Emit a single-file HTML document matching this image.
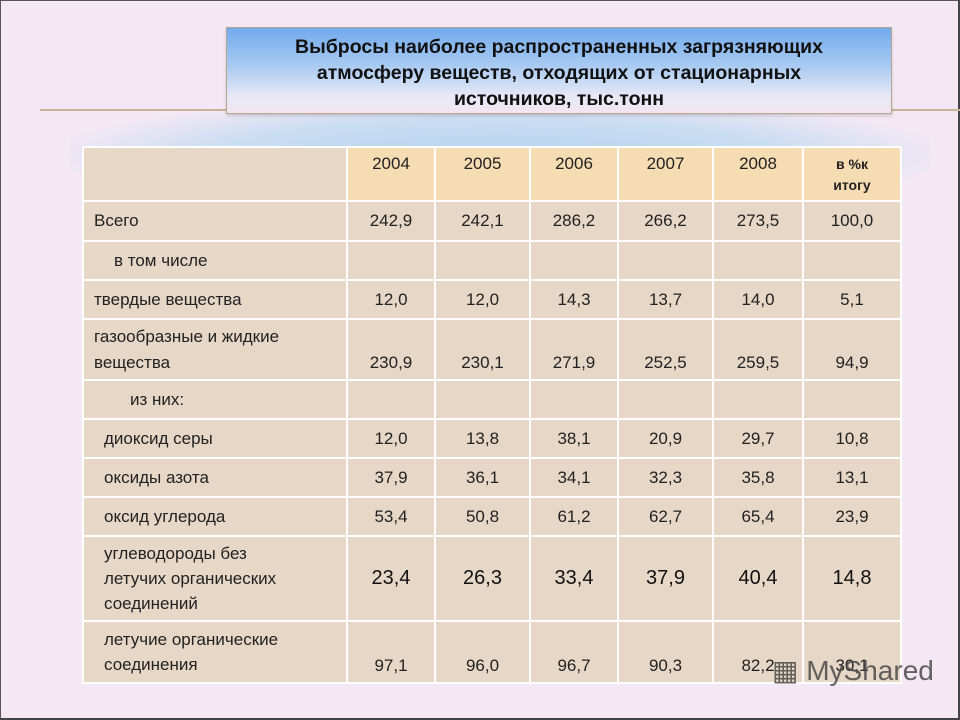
<!DOCTYPE html>
<html><head><meta charset="utf-8">
<style>
html,body{margin:0;padding:0}
body{width:960px;height:720px;position:relative;overflow:hidden;background:#f4e8f4;font-family:"Liberation Sans",sans-serif;}
#frame{position:absolute;left:0;top:0;width:957px;height:717px;border:1px solid #555;border-right:2px solid #444;border-bottom:2px solid #444;}
#glow{position:absolute;left:70px;top:100px;width:860px;height:110px;background:radial-gradient(ellipse at center,#b4d3ef 0%,#c9ddf2 45%,rgba(244,232,244,0) 75%);}
#line{position:absolute;left:40px;top:109px;width:920px;height:2px;background:#cbb39a;}
#title{position:absolute;left:226px;top:27px;width:666px;height:87px;border:1px solid #b9a58e;background:linear-gradient(#72aaec 0%,#a9cbf2 45%,#e6e8f6 80%,#f4e6f2 100%);text-align:center;font-weight:bold;font-size:19.5px;line-height:26px;color:#111;box-sizing:border-box;padding-top:6px;box-shadow:0 2px 3px rgba(0,0,0,0.15);}
table{position:absolute;left:82px;top:146px;border-collapse:collapse;font-size:17px;color:#222;}
td{border:2px solid #fff;background:#e6d7c7;padding:0;vertical-align:middle;text-align:center;}
td.l{text-align:left;padding-left:10px;}
tr.h td{background:#f6dcb2;vertical-align:top;padding-top:6px;}
tr.h td.l{background:#e6d7c7;}
td.b{vertical-align:bottom;padding-bottom:6px;}
.big{font-size:20px;color:#111}
#wm{position:absolute;left:772px;top:654px;font-size:28px;color:#4a4a4a;opacity:.85;}
</style></head><body>
<div id="frame"></div>
<div id="glow"></div>
<div id="line"></div>
<div id="title">Выбросы наиболее распространенных загрязняющих<br>атмосферу веществ, отходящих от стационарных<br>источников, тыс.тонн</div>
<table>
<colgroup><col style="width:264px"><col style="width:88px"><col style="width:95px"><col style="width:88px"><col style="width:95px"><col style="width:90px"><col style="width:98px"></colgroup>
<tr class="h" style="height:54px"><td class="l"></td><td>2004</td><td>2005</td><td>2006</td><td>2007</td><td>2008</td><td style="font-size:14px;font-weight:bold;line-height:21px">в %к<br>итогу</td></tr>
<tr style="height:40px"><td class="l">Всего</td><td>242,9</td><td>242,1</td><td>286,2</td><td>266,2</td><td>273,5</td><td>100,0</td></tr>
<tr style="height:39px"><td class="l" style="padding-left:30px">в том числе</td><td></td><td></td><td></td><td></td><td></td><td></td></tr>
<tr style="height:39px"><td class="l">твердые вещества</td><td>12,0</td><td>12,0</td><td>14,3</td><td>13,7</td><td>14,0</td><td>5,1</td></tr>
<tr style="height:61px"><td class="l" style="line-height:26px">газообразные и жидкие<br>вещества</td><td class="b">230,9</td><td class="b">230,1</td><td class="b">271,9</td><td class="b">252,5</td><td class="b">259,5</td><td class="b">94,9</td></tr>
<tr style="height:39px"><td class="l" style="padding-left:46px">из них:</td><td></td><td></td><td></td><td></td><td></td><td></td></tr>
<tr style="height:39px"><td class="l" style="padding-left:20px">диоксид серы</td><td>12,0</td><td>13,8</td><td>38,1</td><td>20,9</td><td>29,7</td><td>10,8</td></tr>
<tr style="height:39px"><td class="l" style="padding-left:20px">оксиды азота</td><td>37,9</td><td>36,1</td><td>34,1</td><td>32,3</td><td>35,8</td><td>13,1</td></tr>
<tr style="height:39px"><td class="l" style="padding-left:20px">оксид углерода</td><td>53,4</td><td>50,8</td><td>61,2</td><td>62,7</td><td>65,4</td><td>23,9</td></tr>
<tr style="height:85px"><td class="l" style="padding-left:20px;line-height:25px">углеводороды без<br>летучих органических<br>соединений</td><td class="big">23,4</td><td class="big">26,3</td><td class="big">33,4</td><td class="big">37,9</td><td class="big">40,4</td><td class="big">14,8</td></tr>
<tr style="height:62px"><td class="l" style="padding-left:20px;line-height:25px">летучие органические<br>соединения</td><td class="b">97,1</td><td class="b">96,0</td><td class="b">96,7</td><td class="b">90,3</td><td class="b">82,2</td><td class="b">30,1</td></tr>
</table>
<div id="wm">▦ MyShared</div>
</body></html>
